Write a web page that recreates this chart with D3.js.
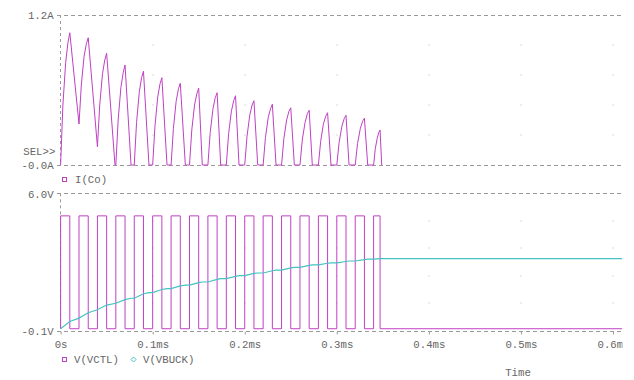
<!DOCTYPE html>
<html><head><meta charset="utf-8">
<script src="https://cdn.jsdelivr.net/npm/d3@7"></script>
<style>
html,body{margin:0;padding:0;background:#fff;}
svg{display:block;}
text{font-family:"Liberation Mono","Courier New",monospace;font-size:10.7px;fill:#666;}
</style></head>
<body>
<script>
// ---- data (time in ms) ----
const xTickValues = [0, 0.1, 0.2, 0.3, 0.4, 0.5, 0.6];
const xTickLabels = ["0s", "0.1ms", "0.2ms", "0.3ms", "0.4ms", "0.5ms", "0.6ms"];
const topTickValues = [1.2, 0];
const topTickLabels = ["1.2A", "-0.0A"];
const botTickValues = [6.0, -0.1];
const botTickLabels = ["6.0V", "-0.1V"];
const seriesNames = ["I(Co)", "V(VCTL)", "V(VBUCK)"];

// I(Co) waveform vertices
const icoT = [
  0, 0.0025, 0.0055, 0.008, 0.01,
  0.02, 0.0225, 0.0255, 0.028, 0.03,
  0.04, 0.0425, 0.0455, 0.048, 0.05, 0.0591,
  0.06, 0.0625, 0.0655, 0.068, 0.07, 0.0765,
  0.08, 0.0825, 0.0855, 0.088, 0.09, 0.096,
  0.10, 0.1025, 0.1055, 0.108, 0.11, 0.1156,
  0.12, 0.1225, 0.1255, 0.128, 0.13, 0.1355,
  0.14, 0.1425, 0.1455, 0.148, 0.15, 0.1539,
  0.16, 0.1625, 0.1655, 0.168, 0.17, 0.1739,
  0.18, 0.1825, 0.1855, 0.188, 0.19, 0.1938,
  0.20, 0.2025, 0.2055, 0.208, 0.21, 0.2141,
  0.22, 0.2225, 0.2255, 0.228, 0.23, 0.234,
  0.24, 0.2425, 0.2455, 0.248, 0.25, 0.2539,
  0.26, 0.2625, 0.2655, 0.268, 0.27, 0.2734,
  0.28, 0.2825, 0.2855, 0.288, 0.29, 0.2937,
  0.30, 0.3025, 0.3055, 0.308, 0.31, 0.3133,
  0.32, 0.3225, 0.3255, 0.328, 0.33, 0.3336,
  0.34, 0.3418, 0.3438, 0.3456, 0.347, 0.3488
];
const icoV = [
  0, 0.48, 0.82, 0.98, 1.058,
  0.328, 0.64, 0.87, 0.97, 1.018,
  0.146, 0.48, 0.73, 0.84, 0.894, 0,
  0, 0.36, 0.62, 0.74, 0.80, 0,
  0, 0.34, 0.585, 0.70, 0.75, 0,
  0, 0.31, 0.545, 0.65, 0.698, 0,
  0, 0.29, 0.51, 0.61, 0.654, 0,
  0, 0.28, 0.48, 0.57, 0.614, 0,
  0, 0.26, 0.45, 0.54, 0.578, 0,
  0, 0.25, 0.43, 0.515, 0.554, 0,
  0, 0.23, 0.40, 0.48, 0.514, 0,
  0, 0.22, 0.38, 0.45, 0.486, 0,
  0, 0.21, 0.36, 0.43, 0.458, 0,
  0, 0.20, 0.34, 0.41, 0.438, 0,
  0, 0.19, 0.33, 0.39, 0.418, 0,
  0, 0.18, 0.31, 0.37, 0.398, 0,
  0, 0.17, 0.29, 0.35, 0.374, 0,
  0, 0.13, 0.21, 0.26, 0.28, 0
];

// V(VCTL) square wave edges, levels
const vctlRise = [0, 0.02, 0.04, 0.06, 0.08, 0.10, 0.12, 0.14, 0.16, 0.18, 0.20, 0.22, 0.24, 0.26, 0.28, 0.30, 0.32, 0.34];
const vctlFall = [0.01, 0.03, 0.05, 0.07, 0.09, 0.11, 0.13, 0.15, 0.17, 0.19, 0.21, 0.23, 0.25, 0.27, 0.29, 0.31, 0.33, 0.347];
const vctlHigh = 5.0, vctlLow = 0.0;
const simEnd = 0.61;

// V(VBUCK) vertices
const vbuckT = [0, 0.01, 0.02, 0.03, 0.04, 0.05, 0.06, 0.07, 0.0765, 0.08, 0.09, 0.096, 0.10, 0.11, 0.1156, 0.12,
  0.13, 0.1355, 0.14, 0.15, 0.1539, 0.16, 0.17, 0.1739, 0.18, 0.19, 0.1938, 0.20, 0.21, 0.2141, 0.22,
  0.23, 0.234, 0.24, 0.25, 0.2539, 0.26, 0.27, 0.2734, 0.28, 0.29, 0.2937, 0.30, 0.31, 0.3133, 0.32,
  0.33, 0.3336, 0.34, 0.347, 0.61];
const vbuckV = [0, 0.32, 0.47, 0.71, 0.84, 1.05, 1.13, 1.29, 1.35, 1.35, 1.55, 1.60, 1.60, 1.74, 1.78, 1.78,
  1.90, 1.93, 1.93, 2.04, 2.07, 2.07, 2.19, 2.22, 2.22, 2.32, 2.35, 2.35, 2.45, 2.47, 2.47,
  2.57, 2.60, 2.60, 2.70, 2.72, 2.72, 2.81, 2.83, 2.83, 2.90, 2.92, 2.92, 2.98, 3.00, 3.00,
  3.06, 3.08, 3.08, 3.11, 3.11];

// ---- layout ----
const W = 634, H = 380;
const purple = "#c040c4", cyan = "#45c2c2", gridGray = "#9a9a9a";
const x = d3.scaleLinear().domain([0, 0.61]).range([60.6, 622.2]);
const yTop = d3.scaleLinear().domain([0, 1.2]).range([165, 15]);
const yBot = d3.scaleLinear().domain([-0.1, 6.0]).range([331, 193.3]);

const svg = d3.select("body").append("svg").attr("width", W).attr("height", H);
const defs = svg.append("defs");
defs.append("clipPath").attr("id", "plotclip").append("rect")
  .attr("x", 0).attr("y", 0).attr("width", 622.5).attr("height", H);

function frame(y, ticksV, ticksL, withXTicks) {
  const [d0, d1] = y.domain();
  const g = svg.append("g");
  // grid dots
  const gridY = d3.range(1, 5).map(k => d0 + (d1 - d0) * k / 5);
  xTickValues.slice(1).forEach(tv => {
    gridY.forEach(gv => {
      g.append("rect").attr("x", Math.round(x(tv)) - 0.5).attr("y", Math.round(y(gv)) - 0.5)
        .attr("width", 1).attr("height", 1).attr("fill", "#b8b8b8");
    });
  });
  // dashed top & bottom borders
  [d1, d0].forEach(v => {
    g.append("line").attr("x1", 57).attr("x2", x.range()[1]).attr("y1", Math.round(y(v)) + 0.5).attr("y2", Math.round(y(v)) + 0.5)
      .attr("stroke", gridGray).attr("stroke-width", 1).attr("stroke-dasharray", "4,3");
  });
  // left dashed border
  g.append("line").attr("x1", 60.5).attr("x2", 60.5).attr("y1", y(d1)).attr("y2", y(d0))
    .attr("stroke", gridGray).attr("stroke-width", 1).attr("stroke-dasharray", "3,3");
  // y labels
  const ax = d3.axisLeft(y).tickValues(ticksV).tickFormat((d, i) => ticksL[i]).tickSize(0).tickPadding(7);
  const ag = svg.append("g").attr("transform", "translate(60.6,0)").call(ax);
  ag.select(".domain").remove();
  ag.selectAll("text").attr("fill", "#666").style("font-family", '"Liberation Mono","Courier New",monospace').style("font-size", "10.7px").attr("dy", "0.35em");
  if (withXTicks) {
    const xa = d3.axisBottom(x).tickValues(xTickValues).tickFormat((d, i) => xTickLabels[i]).tickSize(3).tickPadding(6);
    const xg = svg.append("g").attr("transform", `translate(0,${Math.round(y(d0)) + 0.5})`).attr("clip-path", "url(#plotclip)").call(xa);
    xg.select(".domain").remove();
    xg.selectAll("line").attr("stroke", gridGray);
    xg.selectAll("text").attr("fill", "#666").style("font-family", '"Liberation Mono","Courier New",monospace').style("font-size", "10.7px");
  }
}
frame(yTop, topTickValues, topTickLabels, false);
frame(yBot, botTickValues, botTickLabels, true);

const plot = svg.append("g").attr("clip-path", "url(#plotclip)");

// I(Co)
const icoPts = icoT.map((t, i) => [t, icoV[i]]);
plot.append("path").attr("d", d3.line().x(d => x(d[0])).y(d => yTop(d[1]))(icoPts))
  .attr("fill", "none").attr("stroke", purple).attr("stroke-width", 1);

// V(VCTL)
const vctlPts = [];
vctlRise.forEach((r, i) => {
  vctlPts.push([r, vctlLow], [r, vctlHigh], [vctlFall[i], vctlHigh], [vctlFall[i], vctlLow]);
});
vctlPts.push([simEnd, vctlLow]);
plot.append("path").attr("d", d3.line().x(d => x(d[0])).y(d => yBot(d[1]))(vctlPts))
  .attr("fill", "none").attr("stroke", purple).attr("stroke-width", 1);

// V(VBUCK)
const vbPts = vbuckT.map((t, i) => [t, vbuckV[i]]);
plot.append("path").attr("d", d3.line().x(d => x(d[0])).y(d => yBot(d[1]))(vbPts))
  .attr("fill", "none").attr("stroke", cyan).attr("stroke-width", 1.2);

// SEL>>
svg.append("text").attr("x", 23.3).attr("y", 151.7).attr("dy", "0.35em").text("SEL>>");

// legends
svg.append("rect").attr("x", 62.5).attr("y", 177.5).attr("width", 4).attr("height", 4)
  .attr("fill", "none").attr("stroke", purple).attr("stroke-width", 1);
svg.append("text").attr("x", 75).attr("y", 179.5).attr("dy", "0.35em").text(seriesNames[0]);

svg.append("rect").attr("x", 62.5).attr("y", 357.5).attr("width", 4).attr("height", 4)
  .attr("fill", "none").attr("stroke", purple).attr("stroke-width", 1);
svg.append("text").attr("x", 74).attr("y", 359.5).attr("dy", "0.35em").text(seriesNames[1]);
svg.append("path").attr("d", "M133.5,357 L136,359.5 L133.5,362 L131,359.5 Z")
  .attr("fill", "none").attr("stroke", cyan).attr("stroke-width", 1);
svg.append("text").attr("x", 143).attr("y", 359.5).attr("dy", "0.35em").text(seriesNames[2]);

svg.append("text").attr("x", 518).attr("y", 372).attr("dy", "0.35em").attr("text-anchor", "middle").text("Time");
</script>
</body></html>
